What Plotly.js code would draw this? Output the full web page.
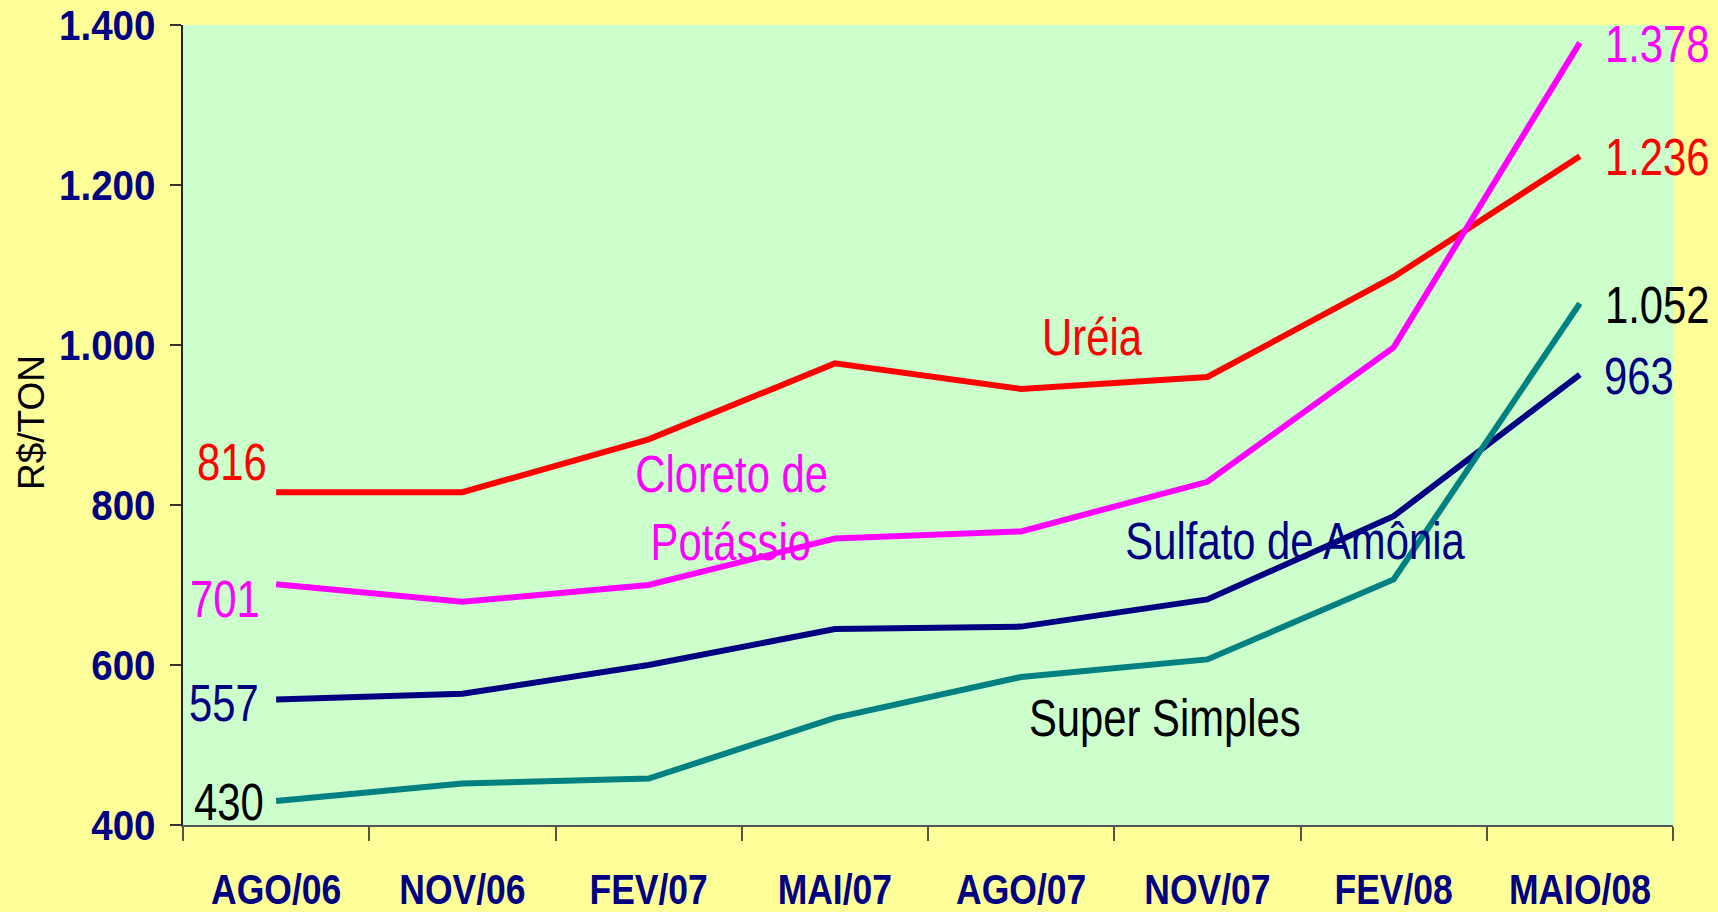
<!DOCTYPE html>
<html>
<head>
<meta charset="utf-8">
<script src="https://cdn.plot.ly/plotly-3.0.1.min.js"></script>
<style>
  html, body { margin: 0; padding: 0; background: #FFFF99; }
  #chart { width: 1718px; height: 912px; }
</style>
</head>
<body>
<div id="chart"></div>
<script>
const categories = ["AGO/06", "NOV/06", "FEV/07", "MAI/07", "AGO/07", "NOV/07", "FEV/08", "MAIO/08"];
const ureia = [816, 816, 882, 977, 945, 960, 1085, 1236];
const cloreto = [701, 679, 700, 758, 767, 829, 997, 1378];
const sulfato = [557, 564, 600, 645, 648, 682, 786, 963];
const superSimples = [430, 452, 458, 534, 585, 607, 707, 1052];
const yTicks = [400, 600, 800, 1000, 1200, 1400];

const NARROW = "'Liberation Sans Narrow', 'Arial Narrow', 'Liberation Sans', Arial, sans-serif";
const SANS = "'Liberation Sans', Arial, sans-serif";

function line(y, color, name) {
  return { x: categories, y: y, type: 'scatter', mode: 'lines', name: name,
           line: { color: color, width: 6 }, hoverinfo: 'y' };
}

const traces = [
  line(ureia, '#FF0000', 'Uréia'),
  line(cloreto, '#FF00FF', 'Cloreto de Potássio'),
  line(sulfato, '#000080', 'Sulfato de Amônia'),
  line(superSimples, '#008080', 'Super Simples')
];

const L = 183, R = 1673, T = 25, B = 825;
function px(x) { return (x - L) / (R - L); }
function py(y) { return (B - y) / (B - T); }
function fmt(v) { return v >= 1000 ? Math.floor(v / 1000) + '.' + String(v % 1000).padStart(3, '0') : String(v); }

function label(text, x, y, color, anchor) {
  return { text: text, xref: 'paper', yref: 'paper', x: px(x), y: py(y),
           xanchor: anchor || 'left', yanchor: 'middle', showarrow: false,
           font: { family: NARROW, size: 51, color: color } };
}

const annotations = [
  label(fmt(ureia[0]), 195, 462, '#FF0000'),
  label(fmt(cloreto[0]), 188, 599, '#FF00FF'),
  label(fmt(sulfato[0]), 187, 703, '#000080'),
  label(fmt(superSimples[0]), 192, 802, '#000000'),
  label(fmt(cloreto[7]), 1603, 44, '#FF00FF'),
  label(fmt(ureia[7]), 1603, 157, '#FF0000'),
  label(fmt(superSimples[7]), 1603, 305, '#000000'),
  label(fmt(sulfato[7]), 1602, 376, '#000080'),
  label('Uréia', 1092, 337, '#FF0000', 'center'),
  label('Cloreto de', 731, 474, '#FF00FF', 'center'),
  label('Potássio', 731, 542, '#FF00FF', 'center'),
  label('Sulfato de Amônia', 1295, 541, '#000080', 'center'),
  label('Super Simples', 1165, 718, '#000000', 'center'),
  { text: 'R$/TON', xref: 'paper', yref: 'paper', x: px(31), y: py(423),
    xanchor: 'center', yanchor: 'middle', textangle: -90, showarrow: false,
    font: { family: SANS, size: 37, color: '#000000' } }
];

const layout = {
  width: 1718, height: 912,
  paper_bgcolor: '#FFFF99', plot_bgcolor: '#CCFFCC',
  margin: { l: L, r: 1718 - R, t: T, b: 912 - B, pad: 0 },
  showlegend: false,
  separators: ',.',
  xaxis: {
    type: 'category', range: [-0.5, 7.5], tickson: 'boundaries',
    ticks: 'outside', ticklen: 14, tickwidth: 2, tickcolor: '#555544',
    showline: true, linecolor: '#555555', linewidth: 2, showgrid: false, zeroline: false,
    tickfont: { family: NARROW, size: 42, color: '#000080', weight: 'bold' },
    ticklabelstandoff: 27, fixedrange: true
  },
  yaxis: {
    range: [400, 1400], tickvals: yTicks, ticktext: yTicks.map(fmt),
    ticks: 'outside', ticklen: 11, tickwidth: 2, tickcolor: '#333333',
    showline: true, linecolor: '#222222', linewidth: 2, showgrid: false, zeroline: false,
    tickfont: { family: NARROW, size: 42, color: '#000080', weight: 'bold' },
    ticklabelstandoff: 6, fixedrange: true
  },
  annotations: annotations
};

// Emulate the narrow typeface of the original by condensing text horizontally
function condense(el, mode, k) {
  const bb = el.getBBox();
  let a;
  if (mode === 'left') a = bb.x;
  else if (mode === 'right') a = bb.x + bb.width;
  else a = bb.x + bb.width / 2;
  const prev = el.getAttribute('transform') || '';
  el.setAttribute('transform', prev + ' translate(' + a + ',0) scale(' + k + ',1) translate(' + (-a) + ',0)');
}

Plotly.newPlot('chart', traces, layout, { displayModeBar: false, staticPlot: true }).then(function (gd) {
  gd.querySelectorAll('.xtick text').forEach(function (t) { condense(t, 'center', 0.845); });
  gd.querySelectorAll('.ytick text').forEach(function (t) { condense(t, 'right', 0.92); });
  annotations.forEach(function (a, i) {
    if (a.textangle) return;
    const t = gd.querySelector('.annotation[data-index="' + i + '"] .annotation-text');
    if (t) condense(t, a.xanchor === 'left' ? 'left' : 'center', 0.82);
  });
});
</script>
</body>
</html>
